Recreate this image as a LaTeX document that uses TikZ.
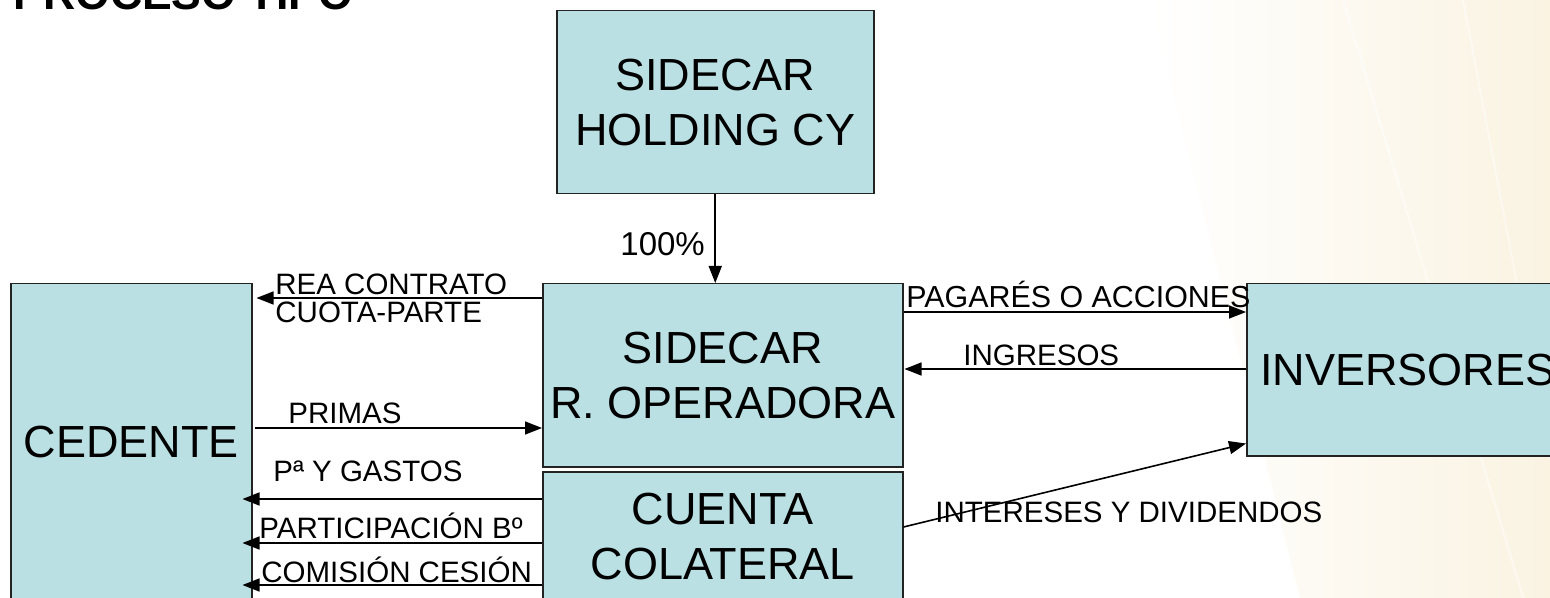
\documentclass[tikz,border=0pt]{standalone}
\usepackage{fontspec}
\setmainfont{Liberation Sans}
\usetikzlibrary{arrows.meta,calc}
\definecolor{boxfill}{RGB}{186,224,227}
\definecolor{boxline}{RGB}{35,35,35}
\definecolor{cream}{RGB}{250,243,226}
\begin{document}
\begin{tikzpicture}[x=0.5pt,y=-0.5pt,
  ent/.style={draw=boxline, line width=0.75pt, fill=boxfill, inner sep=0pt, anchor=north west, align=center, font=\fontsize{22.5}{27.5}\selectfont},
  lab/.style={inner sep=0pt, anchor=base west, font=\fontsize{14.75}{13.5}\selectfont},
  flow/.style={line width=0.8pt, -{Triangle[length=8.5pt,width=6.5pt]}}]
\useasboundingbox (0,0) rectangle (1550,598);
\clip (0,0) rectangle (1550,598);
\fill[white] (0,0) rectangle (1550,598);
\shade[left color=white, right color=cream] (1150,0) -- (1550,0) -- (1550,598) -- (1300,598) -- cycle;
\draw[white, line width=1.2pt, opacity=0.45] (1343,0) -- (1560,720);
\draw[white, line width=1pt, opacity=0.45] (1463,0) -- (1560,510);
% title
\node[anchor=base west, inner sep=0pt, font=\bfseries\fontsize{22.3}{26}\selectfont] (title) at (13,10) {PROCESO TIPO};
% entities
\node[ent, minimum width=158.5pt, minimum height=91.5pt] (hold) at (556,10) {SIDECAR\\HOLDING CY};
\node[ent, minimum width=180pt, minimum height=91.5pt] (oper) at (542,283) {SIDECAR\\R. OPERADORA};
\node[ent, minimum width=180pt, minimum height=65pt] (cuen) at (542,471) {CUENTA\\COLATERAL};
\node[ent, minimum width=120.5pt, minimum height=158.5pt] (ced) at (10,283) {CEDENTE};
\node[ent, minimum width=161pt, minimum height=86pt] (inv) at (1246,283) {INVERSORES};
% connectors
\draw[flow] (hold.south) -- (hold.south |- oper.north);
\draw[flow] ($(oper.north west)+(0,15)$) -- ($(ced.north east)+(4,15)$);
\draw[flow] ($(ced.north east)+(2,145)$) -- ($(oper.north west)+(0,145)$);
\draw[flow] ($(cuen.north west)+(0,28)$) -- ($(cuen.north west -| ced.east)+(-10,28)$);
\draw[flow] ($(cuen.north west)+(0,72)$) -- ($(cuen.north west -| ced.east)+(-10,72)$);
\draw[flow] ($(cuen.north west)+(0,114)$) -- ($(cuen.north west -| ced.east)+(-10,114)$);
\draw[flow] ($(oper.north east)+(0,29)$) -- ($(inv.north west)+(0,29)$);
\draw[flow] ($(inv.north west)+(0,86)$) -- ($(oper.north east)+(1,86)$);
\draw[flow] ($(cuen.north east)+(0,56)$) -- ($(inv.south west)+(0,-13)$);
% labels
\node[lab, font=\fontsize{16.5}{18}\selectfont] (l100) at (620,256) {100\%};
\node[lab, align=left] (lrea) at (275,322) {REA CONTRATO\\CUOTA-PARTE};
\node[lab] (lpri) at (288,423) {PRIMAS};
\node[lab] (lgas) at (273,481) {Pª Y GASTOS};
\node[lab] (lpar) at (259,538) {PARTICIPACIÓN Bº};
\node[lab] (lcom) at (261,582) {COMISIÓN CESIÓN};
\node[lab, font=\fontsize{15.2}{16}\selectfont] (lpag) at (906,307) {PAGARÉS O ACCIONES};
\node[lab] (ling) at (963,365) {INGRESOS};
\node[lab] (lint) at (935,522) {INTERESES Y DIVIDENDOS};
\end{tikzpicture}
\end{document}
